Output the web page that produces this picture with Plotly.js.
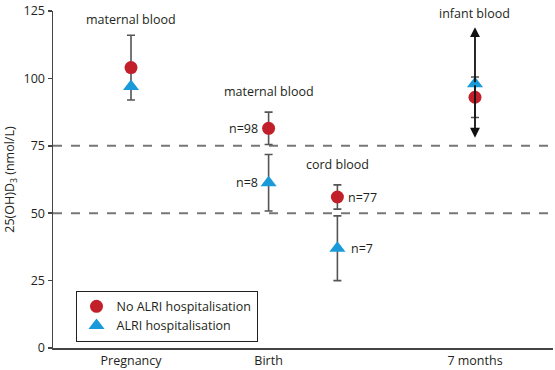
<!DOCTYPE html>
<html>
<head>
<meta charset="utf-8">
<script src="https://cdn.plot.ly/plotly-3.0.1.min.js"></script>
<style>html,body{margin:0;padding:0;background:#fff}#chart{width:555px;height:370px}</style>
</head>
<body>
<div id="chart"></div>
<script>
// Positions along the timeline (Pregnancy, Birth maternal, Birth cord, 7 months)
const xPos = [0, 1, 1.5, 2.5];
const tickVals = [0, 1, 2.5];
const tickText = ["Pregnancy", "Birth", "7 months"];

const noAlriMean = [104, 81.5, 56, 93];
const noAlriErr  = [12, 6, 4.5, 7.5];
const alriMean   = [97, 61.3, 37, 98];
const alriErr    = [0, 10.5, 12, 0];

const infantArrowUp = 119;
const infantArrowDown = 78;

const thresholds = [50, 75];

const groupLabels = ["maternal blood", "maternal blood", "cord blood", "infant blood"];
const groupLabelY = [122, 95, 68, 124];

const nNoAlri = ["", "n=98", "n=77", ""];
const nAlri   = ["", "n=8", "n=7", ""];

const FONT = "Open Sans, sans-serif";
const TXT = "#231f20";

const traces = [
  {
    x: xPos, y: noAlriMean, type: "scatter", mode: "markers",
    name: "No ALRI hospitalisation",
    marker: {symbol: "circle", size: 13, color: "#c1202a"},
    error_y: {type: "data", array: noAlriErr, visible: true, color: "#555", thickness: 1.6, width: 4}
  },
  {
    x: xPos, y: alriMean, type: "scatter", mode: "markers",
    name: "ALRI hospitalisation",
    marker: {symbol: "triangle-up", size: 14, color: "#1a9ad8"},
    error_y: {type: "data", array: alriErr, visible: true, color: "#555", thickness: 1.6, width: 4}
  }
];

const annotations = [];
groupLabels.forEach((t, i) => {
  annotations.push({x: xPos[i], y: groupLabelY[i], xref: "x", yref: "y", text: t, showarrow: false,
    font: {family: FONT, size: 12.5, color: TXT}, xanchor: "center", yanchor: "middle"});
});
nNoAlri.forEach((t, i) => {
  if (!t) return;
  const left = i === 1;
  annotations.push({x: xPos[i], y: noAlriMean[i], xref: "x", yref: "y", text: t, showarrow: false,
    font: {family: FONT, size: 12.5, color: TXT}, xanchor: left ? "right" : "left", yanchor: "middle",
    xshift: left ? -9 : 9});
});
nAlri.forEach((t, i) => {
  if (!t) return;
  const left = i === 1;
  annotations.push({x: xPos[i], y: alriMean[i], xref: "x", yref: "y", text: t, showarrow: false,
    font: {family: FONT, size: 12.5, color: TXT}, xanchor: left ? "right" : "left", yanchor: "middle",
    xshift: left ? -9 : 12});
});
[infantArrowUp, infantArrowDown].forEach(v => {
  annotations.push({x: xPos[3], y: v, xref: "x", yref: "y", axref: "x", ayref: "y",
    ax: xPos[3], ay: alriMean[3], text: "", showarrow: true, arrowhead: 2, arrowsize: 1.1,
    arrowwidth: 1.8, arrowcolor: "#111", standoff: 0, startstandoff: 0});
});

const shapes = thresholds.map(v => ({type: "line", xref: "paper", yref: "y", x0: 0, x1: 1, y0: v, y1: v,
  line: {color: "#777", width: 2, dash: "dash"}, layer: "below"}));

const layout = {
  width: 555, height: 370,
  margin: {l: 53, r: 2, t: 11, b: 22, pad: 0},
  paper_bgcolor: "#fff", plot_bgcolor: "#fff",
  font: {family: FONT, size: 12.5, color: TXT},
  showlegend: true,
  legend: {x: 0.045, y: 0.17, xanchor: "left", yanchor: "top", bgcolor: "#fff",
    bordercolor: "#231f20", borderwidth: 1, font: {family: FONT, size: 12.5, color: TXT},
    itemwidth: 30, tracegroupgap: 0},
  xaxis: {range: [-0.567, 3.067], tickvals: tickVals, ticktext: tickText, showgrid: false, zeroline: false,
    showline: true, linecolor: "#444", linewidth: 1.5, ticks: "", automargin: false,
    tickfont: {family: FONT, size: 12.5, color: TXT}},
  yaxis: {range: [0, 125], tickvals: [0, 25, 50, 75, 100, 125], showgrid: false, zeroline: false,
    showline: true, linecolor: "#444", linewidth: 1.5, ticks: "outside", ticklen: 4, tickcolor: "#444",
    tickwidth: 1.5, automargin: false, tickfont: {family: FONT, size: 12.5, color: TXT},
    title: {text: "25(OH)D<sub>3</sub> (nmol/L)", font: {family: FONT, size: 12.5, color: TXT}, standoff: 6}},
  shapes: shapes,
  annotations: annotations
};

Plotly.newPlot("chart", traces, layout, {displayModeBar: false, staticPlot: true});
</script>
</body>
</html>
